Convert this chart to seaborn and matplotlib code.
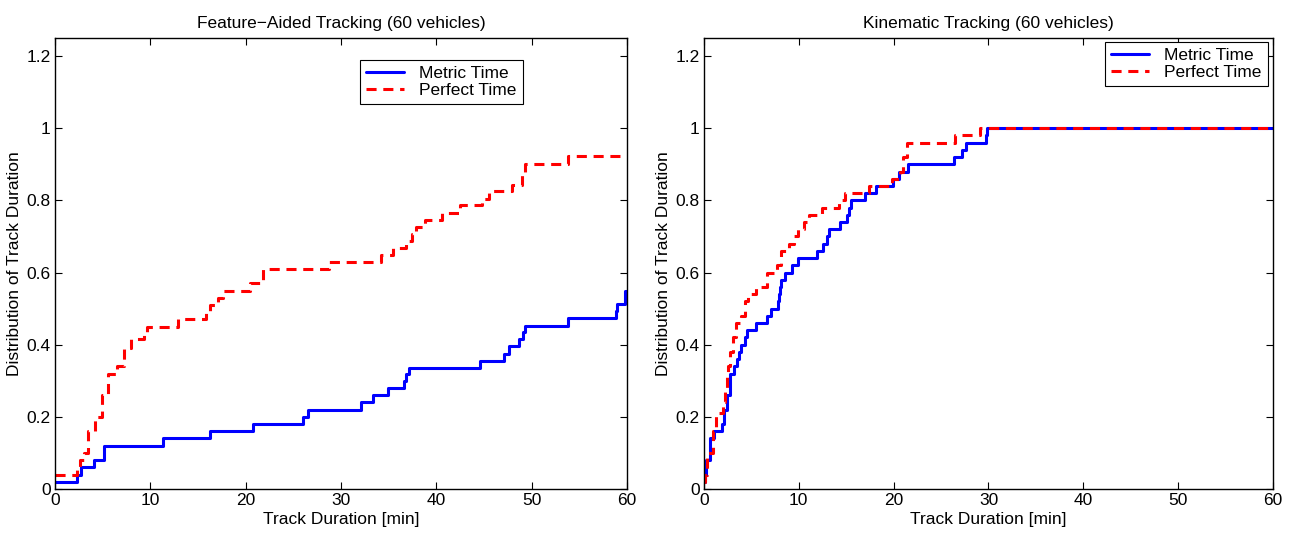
import seaborn as sns
import matplotlib.pyplot as plt
import pandas as pd
import numpy as np

# Feature-aided tracking: step points (minutes, cumulative distribution)
fa_metric_x = [0, 2.3, 2.7, 4.1, 5.15, 11.3, 16.3, 20.8, 26.05, 26.5, 32.1, 33.4, 34.9, 36.6,
               36.8, 37.1, 44.6, 47.1, 47.6, 48.7, 49.1, 49.3, 53.8, 58.8, 59.0, 59.8, 60]
fa_metric_y = [0.02, 0.04, 0.06, 0.08, 0.12, 0.14, 0.16, 0.18, 0.20, 0.22, 0.24, 0.26, 0.28, 0.30,
               0.32, 0.335, 0.355, 0.375, 0.395, 0.415, 0.435, 0.453, 0.473, 0.493, 0.512, 0.55, 0.55]

fa_perfect_x = [0, 2.3, 2.6, 3.0, 3.5, 4.2, 4.9, 5.6, 6.5, 7.2, 8.0, 9.3, 9.6, 12.9, 15.8, 16.3,
                17.1, 17.6, 20.5, 21.8, 28.7, 34.2, 35.5, 36.8, 37.5, 37.9, 38.8, 40.6, 42.5,
                44.8, 45.5, 47.9, 49.0, 49.3, 53.8, 60]
fa_perfect_y = [0.04, 0.06, 0.08, 0.10, 0.16, 0.20, 0.26, 0.32, 0.34, 0.39, 0.415, 0.435, 0.45,
                0.47, 0.49, 0.51, 0.53, 0.55, 0.57, 0.61, 0.63, 0.648, 0.667, 0.687, 0.707,
                0.727, 0.747, 0.766, 0.786, 0.805, 0.825, 0.844, 0.88, 0.902, 0.922, 0.922]

# Kinematic tracking
kin_metric_x = [0, 0.1, 0.2, 0.6, 1.1, 1.9, 2.1, 2.4, 2.7, 3.2, 3.5, 3.7, 3.9, 4.3, 4.5, 5.5,
                6.7, 7.1, 7.8, 7.9, 8.0, 8.1, 8.5, 9.3, 9.9, 11.9, 12.6, 13.0, 13.2, 14.3, 15.1,
                15.3, 15.5, 17.0, 18.1, 19.9, 20.6, 21.5, 26.4, 27.2, 27.6, 29.7, 29.8, 60]
kin_metric_y = [0.02, 0.04, 0.08, 0.14, 0.16, 0.18, 0.22, 0.26, 0.32, 0.34, 0.36, 0.38, 0.40,
                0.42, 0.44, 0.46, 0.48, 0.50, 0.52, 0.54, 0.56, 0.58, 0.60, 0.62, 0.64, 0.66,
                0.68, 0.70, 0.72, 0.74, 0.76, 0.78, 0.80, 0.82, 0.84, 0.86, 0.88, 0.90, 0.92,
                0.94, 0.96, 0.98, 1.0, 1.0]

kin_perfect_x = [0, 0.1, 0.3, 1.0, 1.3, 2.0, 2.2, 2.4, 2.5, 2.8, 3.1, 3.4, 3.9, 4.3, 4.6, 5.5,
                 6.7, 7.7, 8.1, 9.0, 9.5, 9.9, 10.5, 11.1, 12.5, 14.2, 14.9, 17.4, 19.8, 20.7,
                 21.0, 21.4, 26.5, 29.1, 60]
kin_perfect_y = [0.02, 0.04, 0.10, 0.16, 0.21, 0.24, 0.28, 0.32, 0.34, 0.38, 0.42, 0.46, 0.48,
                 0.52, 0.54, 0.56, 0.60, 0.62, 0.66, 0.68, 0.70, 0.72, 0.74, 0.76, 0.78, 0.80,
                 0.82, 0.84, 0.86, 0.88, 0.92, 0.96, 0.98, 1.0, 1.0]

titles = ['Feature\u2212Aided Tracking (60 vehicles)', 'Kinematic Tracking (60 vehicles)']
labels = ['Metric Time', 'Perfect Time']

sns.set_style('ticks')
plt.rcParams['font.family'] = ['Liberation Sans', 'DejaVu Sans']
plt.rcParams['text.color'] = 'black'
plt.rcParams['axes.labelcolor'] = 'black'
plt.rcParams['xtick.color'] = 'black'
plt.rcParams['ytick.color'] = 'black'

fig = plt.figure(figsize=(12.94, 5.33), dpi=100)
ax1 = fig.add_axes([0.0425, 0.0826, 0.442, 0.846])
ax2 = fig.add_axes([0.544, 0.0826, 0.4398, 0.846])

panels = [(ax1, fa_metric_x, fa_metric_y, fa_perfect_x, fa_perfect_y, (0.818, 0.951)),
          (ax2, kin_metric_x, kin_metric_y, kin_perfect_x, kin_perfect_y, (0.991, 0.991))]

for i, (ax, mx, my, px, py, anchor) in enumerate(panels):
    sns.lineplot(x=mx, y=my, ax=ax, color='#0000ff', lw=2.2, drawstyle='steps-post',
                 estimator=None, sort=False, label=labels[0])
    sns.lineplot(x=px, y=py, ax=ax, color='#ff0000', lw=2.2, drawstyle='steps-post',
                 estimator=None, sort=False, label=labels[1])
    ax.lines[1].set_linestyle((0, (3.3, 2.2)))
    ax.set_xlim(0, 60)
    ax.set_ylim(0, 1.25)
    ax.set_xticks([0, 10, 20, 30, 40, 50, 60])
    ax.set_yticks([0, 0.2, 0.4, 0.6, 0.8, 1, 1.2])
    ax.set_yticklabels(['0', '0.2', '0.4', '0.6', '0.8', '1', '1.2'])
    ax.tick_params(direction='in', top=True, right=True, labelsize=12.5, length=5, pad=3)
    for s in ax.spines.values():
        s.set_visible(True)
        s.set_linewidth(1)
        s.set_color('black')
    ax.set_title(titles[i], fontsize=12.5, pad=7)
    ax.set_xlabel('Track Duration [min]', fontsize=12.5, labelpad=3)
    ax.set_ylabel('Distribution of Track Duration', fontsize=12.5, labelpad=3)
    leg = ax.legend(loc='upper right', bbox_to_anchor=anchor, fontsize=12.5, frameon=True,
                    fancybox=False, edgecolor='black', framealpha=1, handlelength=2.2,
                    handletextpad=0.9, borderpad=0.35, labelspacing=0.1, borderaxespad=0)
    leg.get_frame().set_linewidth(0.8)

fig.savefig('out.png', dpi=100)
